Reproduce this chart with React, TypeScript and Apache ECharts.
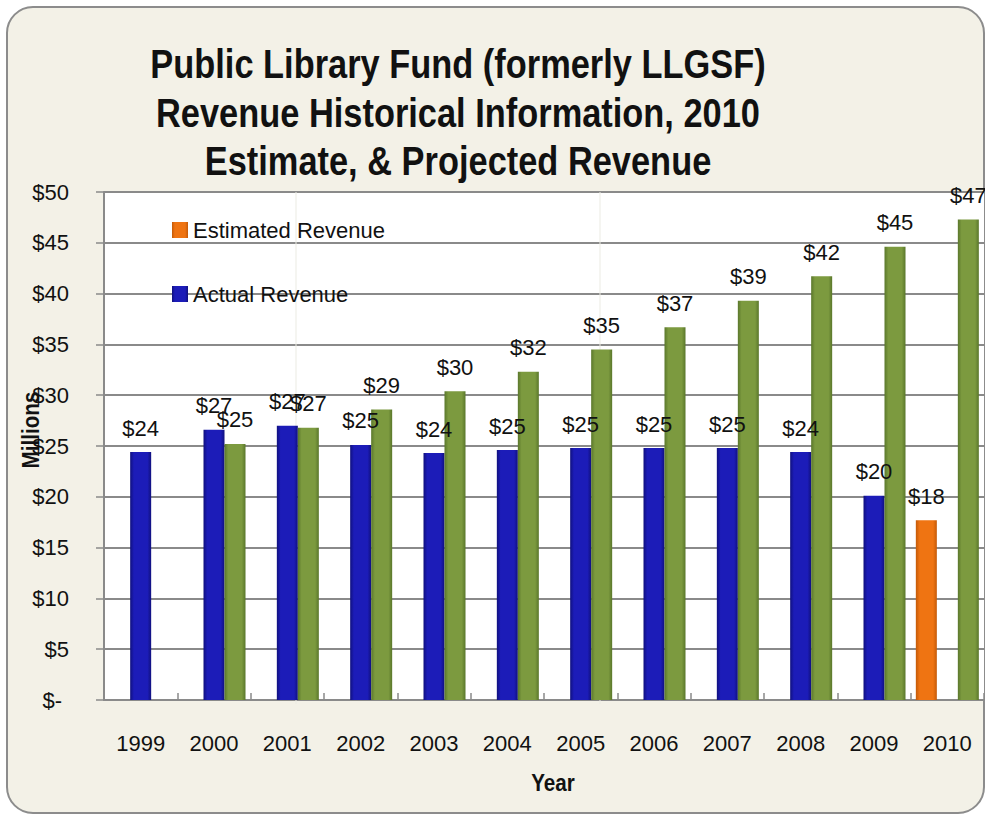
import React, { useEffect, useRef } from "react";
import * as echarts from "echarts";

const years = ["1999", "2000", "2001", "2002", "2003", "2004", "2005", "2006", "2007", "2008", "2009", "2010"];
const actualRevenue: (number | string)[] = [24.4, 26.6, 27.0, 25.1, 24.3, 24.6, 24.8, 24.8, 24.8, 24.4, 20.1, "-"];
const estimatedRevenue: (number | string)[] = ["-", "-", "-", "-", "-", "-", "-", "-", "-", "-", "-", 17.7];
const projectedRevenue: (number | string)[] = ["-", 25.2, 26.8, 28.6, 30.4, 32.3, 34.5, 36.7, 39.3, 41.7, 44.6, 47.3];
const yMin = 0;
const yMax = 50;
const yStep = 5;

const titleLines = [
  "Public Library Fund (formerly LLGSF)",
  "Revenue Historical Information, 2010",
  "Estimate, & Projected Revenue",
];

const FONT = "'Liberation Sans', Arial, sans-serif";
const NARROW = 0.86;

function barGradient(edge: string, mid: string) {
  return new echarts.graphic.LinearGradient(0, 0, 1, 0, [
    { offset: 0, color: edge },
    { offset: 0.18, color: mid },
    { offset: 0.82, color: mid },
    { offset: 1, color: edge },
  ]);
}

export default function App() {
  const ref = useRef<HTMLDivElement>(null);

  useEffect(() => {
    if (!ref.current) return;
    const chart = echarts.init(ref.current, null, { renderer: "svg" });
    const labelCfg = {
      show: true,
      position: "top" as const,
      distance: 13,
      color: "#111",
      fontFamily: FONT,
      fontSize: 22,
      formatter: (p: any) => "$" + Math.round(Number(p.value)),
    };
    const titleY = [64, 113, 161];
    chart.setOption({
      animation: false,
      backgroundColor: "transparent",
      legend: {
        data: ["Estimated Revenue", "Actual Revenue"],
        orient: "vertical",
        left: 167,
        top: 214,
        itemWidth: 16,
        itemHeight: 16,
        itemGap: 42,
        icon: "rect",
        textStyle: { fontFamily: FONT, fontSize: 22, color: "#111", lineHeight: 22 },
      },
      grid: {
        left: 104,
        top: 192,
        right: 1,
        bottom: 115,
        show: true,
        backgroundColor: "#ffffff",
        borderWidth: 0,
      },
      xAxis: [
        {
          type: "category",
          data: years,
          axisLine: { show: true, lineStyle: { color: "#8a8a8a", width: 2 } },
          axisTick: { show: true, inside: true, length: 7, lineStyle: { color: "#8a8a8a", width: 1.5 } },
          axisLabel: { fontFamily: FONT, fontSize: 22, color: "#111", margin: 32 },
        },
        {
          type: "category",
          data: years,
          show: false,
        },
      ],
      yAxis: {
        type: "value",
        min: yMin,
        max: yMax,
        interval: yStep,
        axisLine: { show: true, lineStyle: { color: "#8a8a8a", width: 2 } },
        axisTick: { show: true, inside: false, length: 8, lineStyle: { color: "#8a8a8a", width: 1.5 } },
        splitLine: { show: true, lineStyle: { color: "#8a8a8a", width: 2 } },
        axisLabel: {
          fontFamily: FONT,
          fontSize: 22,
          color: "#111",
          margin: 35,
          formatter: (v: number) => (v === 0 ? "{z|$-}" : "$" + v),
          rich: { z: { fontFamily: FONT, fontSize: 22, color: "#111", padding: [0, 7, 0, 0] } },
        },
      },
      graphic: [
        {
          type: "rect",
          z: -100,
          silent: true,
          shape: { x: 7, y: 7, width: 977, height: 806, r: 26 },
          style: { fill: "#f3f1e7", stroke: "#8c8c8c", lineWidth: 2 },
        },
        {
          type: "line",
          z: 1,
          silent: true,
          shape: { x1: 296, y1: 192, x2: 296, y2: 704 },
          style: { stroke: "#ebebe3", lineWidth: 1 },
        },
        {
          type: "line",
          z: 1,
          silent: true,
          shape: { x1: 600, y1: 192, x2: 600, y2: 704 },
          style: { stroke: "#ebebe3", lineWidth: 1 },
        },
        ...titleLines.map((t, i) => ({
          type: "text",
          x: 458,
          y: titleY[i],
          scaleX: NARROW,
          style: {
            text: t,
            align: "center",
            verticalAlign: "middle",
            fontFamily: FONT,
            fontSize: 40,
            fontWeight: "bold",
            fill: "#111",
          },
        })),
        {
          type: "text",
          x: 31,
          y: 430,
          rotation: Math.PI / 2,
          scaleX: NARROW,
          style: {
            text: "Millions",
            align: "center",
            verticalAlign: "middle",
            fontFamily: FONT,
            fontSize: 24,
            fontWeight: "bold",
            fill: "#111",
          },
        },
        {
          type: "text",
          x: 553,
          y: 783,
          scaleX: NARROW,
          style: {
            text: "Year",
            align: "center",
            verticalAlign: "middle",
            fontFamily: FONT,
            fontSize: 24,
            fontWeight: "bold",
            fill: "#111",
          },
        },
      ],
      series: [
        {
          name: "Actual Revenue",
          type: "bar",
          xAxisIndex: 0,
          barWidth: 21,
          data: actualRevenue,
          itemStyle: { color: barGradient("#10107e", "#1c1cb8") },
          label: labelCfg,
          z: 3,
        },
        {
          name: "Estimated Revenue",
          type: "bar",
          xAxisIndex: 1,
          barWidth: 21,
          barGap: "100%",
          data: estimatedRevenue,
          itemStyle: { color: barGradient("#c45a08", "#ef7412") },
          label: labelCfg,
          z: 3,
        },
        {
          name: "Projected Revenue",
          type: "bar",
          xAxisIndex: 1,
          barWidth: 21,
          barGap: "100%",
          data: projectedRevenue,
          itemStyle: { color: barGradient("#5a772b", "#7c9a3f") },
          label: labelCfg,
          z: 3,
        },
      ],
    });
    return () => chart.dispose();
  }, []);

  return (
    <div
      ref={ref}
      style={{ position: "absolute", left: 0, top: 0, width: 985, height: 815 }}
    />
  );
}
